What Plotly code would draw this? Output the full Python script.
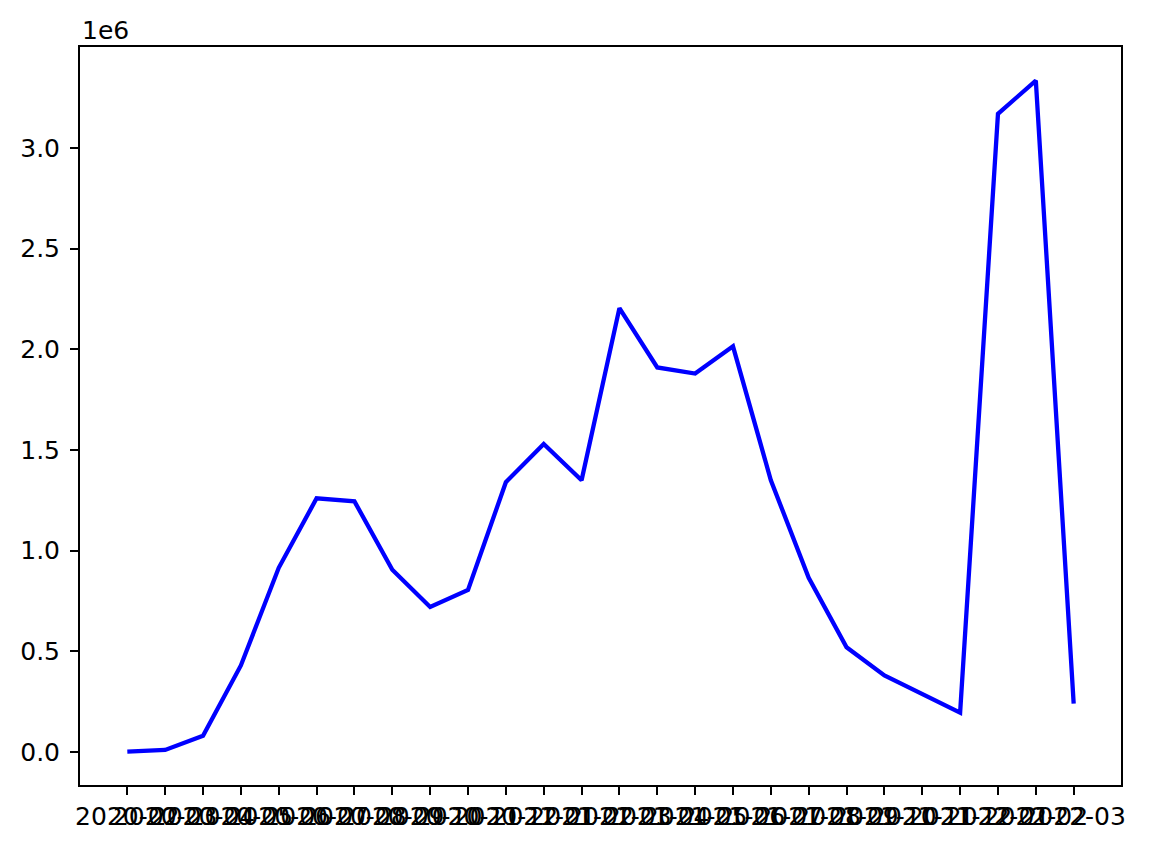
import plotly.graph_objects as go

months = ["2020-02", "2020-03", "2020-04", "2020-05", "2020-06", "2020-07", "2020-08",
          "2020-09", "2020-10", "2020-11", "2020-12", "2021-01", "2021-02", "2021-03",
          "2021-04", "2021-05", "2021-06", "2021-07", "2021-08", "2021-09", "2021-10",
          "2021-11", "2021-12", "2022-01", "2022-02", "2022-03"]
values = [2000, 10000, 80000, 430000, 915000, 1260000, 1245000, 905000, 720000, 805000,
          1340000, 1530000, 1350000, 2205000, 1910000, 1880000, 2015000, 1350000, 865000,
          520000, 380000, 290000, 195000, 3170000, 3335000, 240000]
ytick_vals = [0, 500000, 1000000, 1500000, 2000000, 2500000, 3000000]
ytick_text = ["0.0", "0.5", "1.0", "1.5", "2.0", "2.5", "3.0"]

idx = list(range(len(months)))

fig = go.Figure()
fig.add_trace(go.Scatter(x=idx, y=values, mode="lines",
                         line=dict(color="#0000ff", width=4.3), showlegend=False))

axis_common = dict(showline=True, linecolor="black", linewidth=2, mirror=True,
                   ticks="outside", ticklen=8, tickwidth=2, tickcolor="black",
                   showgrid=False, zeroline=False,
                   tickfont=dict(family="DejaVu Sans", size=25, color="black"))

fig.update_layout(
    width=1149, height=850,
    margin=dict(l=72, r=36, t=39, b=73),
    paper_bgcolor="white", plot_bgcolor="white",
    xaxis=dict(range=[-1.25, len(months) - 1 + 1.25], tickmode="array",
               tickvals=idx, ticktext=months, tickangle=0, **axis_common),
    yaxis=dict(range=[-164000, 3502000], tickmode="array", ticklabelstandoff=5,
               tickvals=ytick_vals, ticktext=ytick_text, **axis_common),
    annotations=[dict(text="1e6", xref="paper", yref="paper", x=0, y=1,
                      xanchor="left", yanchor="bottom", showarrow=False, yshift=0,
                      font=dict(family="DejaVu Sans", size=25, color="black"))],
)

fig.write_html("out.html")
